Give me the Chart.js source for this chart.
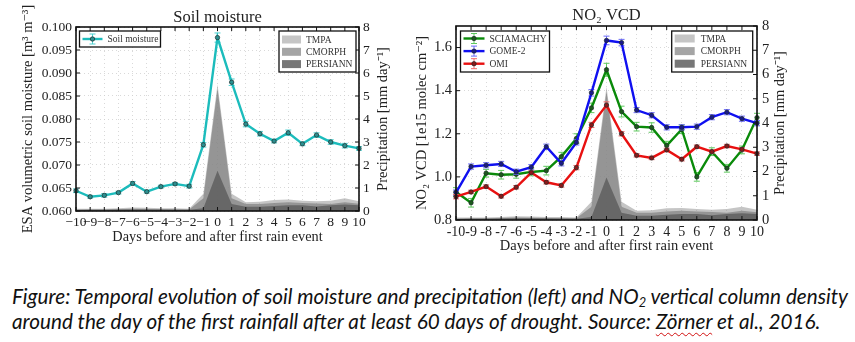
<!DOCTYPE html>
<html>
<head>
<meta charset="utf-8">
<script src="https://cdn.jsdelivr.net/npm/chart.js@4.4.1/dist/chart.umd.min.js"></script>
<style>
  html, body { margin: 0; padding: 0; background: #fff; width: 855px; height: 342px; overflow: hidden; }
  #soilChart { position: absolute; left: 0; top: 0; }
  #no2Chart { position: absolute; left: 400px; top: 0; }
  #caption {
    position: absolute; left: 12px; top: 284px;
    font-family: Lato, "Open Sans", sans-serif; font-style: italic;
    font-size: 17px; line-height: 25px; color: #111; white-space: nowrap;
  }
  #caption sub { font-size: 0.62em; vertical-align: -0.25em; line-height: 0; }
  .squiggle { text-decoration: underline wavy #d21010; text-decoration-thickness: 1px; text-underline-offset: 3px; }
</style>
</head>
<body>
<canvas id="soilChart" width="420" height="255"></canvas>
<canvas id="no2Chart" width="455" height="262"></canvas>
<div id="caption"><span id="capLine1">Figure: Temporal evolution of soil moisture and precipitation (left) and NO<sub>2</sub> vertical column density</span><br>around the day of the first rainfall after at least 60 days of drought. Source: <span class="squiggle">Zörner</span> et al., 2016.</div>

<script>
// ---- data ----
const days = [-10, -9, -8, -7, -6, -5, -4, -3, -2, -1, 0, 1, 2, 3, 4, 5, 6, 7, 8, 9, 10];

const soilMoisture = [0.0644, 0.0631, 0.0634, 0.0640, 0.0660, 0.0642, 0.0653, 0.0659, 0.0654, 0.0744, 0.0977,
                      0.0880, 0.0789, 0.0768, 0.0752, 0.0770, 0.0746, 0.0765, 0.0750, 0.0742, 0.0736];
const soilMoistureErr = [0.0004, 0.0003, 0.0004, 0.0003, 0.0004, 0.0003, 0.0003, 0.0003, 0.0004, 0.0005, 0.0010,
                         0.0007, 0.0006, 0.0005, 0.0004, 0.0006, 0.0004, 0.0005, 0.0005, 0.0005, 0.0004];

const precipTMPA     = [0.10, 0.10, 0.10, 0.12, 0.15, 0.14, 0.12, 0.12, 0.10, 0.75, 5.50,
                        0.75, 0.38, 0.40, 0.48, 0.50, 0.45, 0.42, 0.45, 0.55, 0.42];
const precipCMORPH   = [0.06, 0.07, 0.07, 0.08, 0.10, 0.09, 0.08, 0.08, 0.07, 0.55, 5.30,
                        0.55, 0.30, 0.30, 0.35, 0.38, 0.35, 0.33, 0.30, 0.38, 0.32];
const precipPERSIANN = [0.04, 0.05, 0.05, 0.06, 0.07, 0.07, 0.06, 0.05, 0.05, 0.12, 1.75,
                        0.30, 0.18, 0.18, 0.22, 0.25, 0.25, 0.20, 0.25, 0.28, 0.25];

const no2Sciamachy = [0.930, 0.880, 1.017, 1.010, 1.012, 1.023, 1.029, 1.094, 1.178, 1.320, 1.497,
                      1.303, 1.233, 1.229, 1.145, 1.221, 1.000, 1.117, 1.040, 1.125, 1.275];
const no2SciamachyErr = [0.020, 0.020, 0.018, 0.020, 0.018, 0.018, 0.020, 0.020, 0.022, 0.022, 0.030,
                         0.025, 0.020, 0.022, 0.020, 0.020, 0.020, 0.018, 0.018, 0.018, 0.020];
const no2Gome2 = [0.927, 1.048, 1.054, 1.060, 1.024, 1.045, 1.140, 1.063, 1.160, 1.390, 1.633,
                  1.623, 1.310, 1.286, 1.230, 1.230, 1.233, 1.277, 1.300, 1.270, 1.249];
const no2Gome2Err = [0.012, 0.012, 0.012, 0.012, 0.012, 0.012, 0.012, 0.012, 0.012, 0.015, 0.020,
                     0.015, 0.012, 0.012, 0.012, 0.012, 0.012, 0.012, 0.012, 0.012, 0.012];
const no2Omi = [0.908, 0.930, 0.955, 0.910, 0.952, 1.020, 0.975, 0.960, 1.043, 1.241, 1.333,
                1.200, 1.100, 1.088, 1.125, 1.082, 1.140, 1.117, 1.143, 1.128, 1.108];
const no2OmiErr = [0.010, 0.008, 0.008, 0.008, 0.008, 0.008, 0.008, 0.008, 0.010, 0.012, 0.015,
                   0.010, 0.008, 0.008, 0.008, 0.008, 0.008, 0.008, 0.008, 0.008, 0.008];

// ---- look ----
Chart.defaults.font.family = '"Liberation Serif", "DejaVu Serif", serif';
Chart.defaults.color = '#222';

const colTMPA = 'rgba(150,150,150,0.55)';
const colCMORPH = 'rgba(130,130,130,0.72)';
const colPERSIANN = 'rgba(95,95,95,0.85)';

function precipDatasets() {
    return [
        { label: 'TMPA', data: precipTMPA, yAxisID: 'y2', fill: 'origin', backgroundColor: colTMPA,
          borderWidth: 0, pointRadius: 0, tension: 0, order: 5 },
        { label: 'CMORPH', data: precipCMORPH, yAxisID: 'y2', fill: 'origin', backgroundColor: colCMORPH,
          borderWidth: 0, pointRadius: 0, tension: 0, order: 4 },
        { label: 'PERSIANN', data: precipPERSIANN, yAxisID: 'y2', fill: 'origin', backgroundColor: colPERSIANN,
          borderWidth: 0, pointRadius: 0, tension: 0, order: 3 }
    ];
}

function lineDataset(label, data, err, color, markerFill, errColor, order) {
    return {
        label, data, yAxisID: 'y', errorBars: err, errorColor: errColor,
        borderColor: color, borderWidth: 2.4, backgroundColor: color, fill: false, tension: 0,
        pointRadius: 2.2, pointBackgroundColor: markerFill, pointBorderColor: '#1c2a2a', pointBorderWidth: 0.7,
        order
    };
}

// error bars drawn just before each line, after the rain areas
const errorBarPlugin = {
    id: 'errorBars',
    beforeDatasetDraw(chart, args) {
        const ds = chart.data.datasets[args.index];
        if (!ds.errorBars) return;
        const meta = args.meta;
        const yScale = chart.scales[meta.yAxisID];
        const ctx = chart.ctx;
        ctx.save();
        ctx.strokeStyle = ds.errorColor;
        ctx.lineWidth = 1;
        meta.data.forEach((pt, j) => {
            const v = ds.data[j], e = ds.errorBars[j];
            const y1 = yScale.getPixelForValue(v - e);
            const y2 = yScale.getPixelForValue(v + e);
            ctx.beginPath();
            ctx.moveTo(pt.x, y1); ctx.lineTo(pt.x, y2);
            ctx.moveTo(pt.x - 3, y1); ctx.lineTo(pt.x + 3, y1);
            ctx.moveTo(pt.x - 3, y2); ctx.lineTo(pt.x + 3, y2);
            ctx.stroke();
        });
        ctx.restore();
    }
};

// frame, inner ticks, right axis title, legends
function decorPlugin(cfg) {
    return {
        id: 'decor',
        afterDraw(chart) {
            const ctx = chart.ctx;
            const a = chart.chartArea;
            const sx = chart.scales.x, sy = chart.scales.y, sy2 = chart.scales.y2;
            ctx.save();
            ctx.strokeStyle = '#111';
            ctx.lineWidth = 1;
            ctx.beginPath();
            sx.ticks.forEach((t, i) => {
                const x = sx.getPixelForTick(i);
                ctx.moveTo(x, a.bottom); ctx.lineTo(x, a.bottom - 4);
                ctx.moveTo(x, a.top); ctx.lineTo(x, a.top + 4);
            });
            sy.ticks.forEach((t, i) => {
                const y = sy.getPixelForTick(i);
                ctx.moveTo(a.left, y); ctx.lineTo(a.left + 4, y);
            });
            sy2.ticks.forEach((t, i) => {
                const y = sy2.getPixelForTick(i);
                ctx.moveTo(a.right, y); ctx.lineTo(a.right - 4, y);
            });
            ctx.stroke();
            ctx.lineWidth = 1.6;
            ctx.strokeRect(a.left, a.top, a.right - a.left, a.bottom - a.top);

            // right axis title, reading bottom to top
            ctx.fillStyle = '#222';
            ctx.font = cfg.rightTitleSize + 'px "Liberation Serif", serif';
            ctx.textAlign = 'center';
            ctx.textBaseline = 'middle';
            ctx.translate(cfg.rightTitleX, (a.top + a.bottom) / 2);
            ctx.rotate(-Math.PI / 2);
            ctx.fillText(cfg.rightTitle, 0, 0);
            ctx.setTransform(1, 0, 0, 1, 0, 0);

            cfg.legends.forEach(lg => {
                const bx = lg.side === 'left' ? a.left + lg.dx : a.right - lg.dx - lg.w;
                const by = a.top + lg.dy;
                ctx.fillStyle = '#fff';
                ctx.fillRect(bx, by, lg.w, lg.h);
                ctx.strokeStyle = '#111';
                ctx.lineWidth = 1.3;
                ctx.strokeRect(bx, by, lg.w, lg.h);
                ctx.font = '9.5px "Liberation Serif", serif';
                ctx.textAlign = 'left';
                ctx.textBaseline = 'middle';
                lg.items.forEach((it, k) => {
                    const cy = by + lg.rowTop + k * lg.rowGap;
                    const x0 = bx + 3, x1 = bx + 3 + lg.sample;
                    if (it.kind === 'patch') {
                        ctx.fillStyle = it.color;
                        ctx.fillRect(x0, cy - 4, lg.sample, 8);
                    } else {
                        const xm = (x0 + x1) / 2;
                        ctx.strokeStyle = it.errColor;
                        ctx.lineWidth = 1;
                        ctx.beginPath();
                        ctx.moveTo(xm, cy - 5); ctx.lineTo(xm, cy + 5);
                        ctx.moveTo(xm - 3, cy - 5); ctx.lineTo(xm + 3, cy - 5);
                        ctx.moveTo(xm - 3, cy + 5); ctx.lineTo(xm + 3, cy + 5);
                        ctx.stroke();
                        ctx.strokeStyle = it.color;
                        ctx.lineWidth = 2.4;
                        ctx.beginPath();
                        ctx.moveTo(x0, cy); ctx.lineTo(x1, cy);
                        ctx.stroke();
                        ctx.fillStyle = it.marker;
                        ctx.strokeStyle = '#1c2a2a';
                        ctx.lineWidth = 0.7;
                        ctx.beginPath();
                        ctx.arc(xm, cy, 2.2, 0, Math.PI * 2);
                        ctx.fill(); ctx.stroke();
                    }
                    ctx.fillStyle = '#333';
                    ctx.fillText(it.label, x1 + lg.textGap, cy + 0.5);
                });
            });
            ctx.restore();
        }
    };
}

const precipLegendItems = [
    { label: 'TMPA', kind: 'patch', color: colTMPA },
    { label: 'CMORPH', kind: 'patch', color: colCMORPH },
    { label: 'PERSIANN', kind: 'patch', color: colPERSIANN }
];

function fixedWidth(w) { return scale => { scale.width = w; }; }
function fixedHeight(h) { return scale => { scale.height = h; }; }

function gridOpts() {
    return { color: '#cfcfcf', lineWidth: 0.8, drawTicks: false };
}

// ---- left chart: soil moisture ----
new Chart(document.getElementById('soilChart'), {
    type: 'line',
    data: {
        labels: days,
        datasets: [
            lineDataset('Soil moisture', soilMoisture, soilMoistureErr, '#1cbcbc', '#2b8f8f', '#4fd0d0', 1),
            ...precipDatasets()
        ]
    },
    options: {
        responsive: false,
        animation: false,
        layout: { padding: { left: 0, right: 0, top: 0, bottom: 9.2 } },
        plugins: {
            legend: { display: false },
            tooltip: { enabled: false },
            title: {
                display: true, text: 'Soil moisture', fullSize: false,
                font: { size: 16.5, weight: 'normal', lineHeight: 1 }, color: '#222',
                padding: { top: 9, bottom: 1.5 }
            }
        },
        scales: {
            x: {
                afterFit: fixedHeight(34.8),
                grid: gridOpts(),
                border: { display: false, dash: [1, 3] },
                ticks: {
                    autoSkip: false, maxRotation: 0, minRotation: 0, padding: 3,
                    font: { size: 13.5 },
                    callback: (v, i) => days[i] < 0 ? '\u2212' + Math.abs(days[i]) : String(days[i])
                },
                title: { display: true, text: 'Days before and after first rain event', font: { size: 14.3 }, padding: 0 }
            },
            y: {
                position: 'left', min: 0.06, max: 0.1,
                afterFit: fixedWidth(76),
                grid: gridOpts(),
                border: { display: false, dash: [1, 3] },
                ticks: { stepSize: 0.005, padding: 4, font: { size: 13.5 }, callback: v => v.toFixed(3) },
                title: { display: true, text: 'ESA volumetric soil moisture [m\u00B3 m\u207B\u00B3]',
                         font: { size: 14.5 }, padding: { top: 19.3, bottom: 0 } }
            },
            y2: {
                position: 'right', min: 0, max: 8,
                afterFit: fixedWidth(61),
                grid: { display: false, drawTicks: false },
                border: { display: false },
                ticks: { stepSize: 1, padding: 4, font: { size: 13.5 } }
            }
        }
    },
    plugins: [errorBarPlugin, decorPlugin({
        rightTitle: 'Precipitation [mm day\u207B\u00B9]', rightTitleX: 383, rightTitleSize: 14.5,
        legends: [
            { side: 'left', dx: 3.5, dy: 4, w: 81, h: 16, rowTop: 8, rowGap: 0, sample: 20, textGap: 5,
              items: [{ label: 'Soil moisture', kind: 'line', color: '#1cbcbc', marker: '#2b8f8f', errColor: '#4fd0d0' }] },
            { side: 'right', dx: 3, dy: 4, w: 77, h: 41, rowTop: 8.5, rowGap: 12.3, sample: 19, textGap: 5,
              items: precipLegendItems }
        ]
    })]
});

// ---- right chart: NO2 VCD ----
new Chart(document.getElementById('no2Chart'), {
    type: 'line',
    data: {
        labels: days,
        datasets: [
            lineDataset('SCIAMACHY', no2Sciamachy, no2SciamachyErr, '#0a8a0a', '#1c5a1c', '#5fc85f', 2),
            lineDataset('GOME-2', no2Gome2, no2Gome2Err, '#1010f0', '#1a1a8a', '#6a6af8', 1),
            lineDataset('OMI', no2Omi, no2OmiErr, '#e81010', '#8a1a1a', '#f06a6a', 0),
            ...precipDatasets()
        ]
    },
    options: {
        responsive: false,
        animation: false,
        layout: { padding: { left: 0, right: 0, top: 0, bottom: 7.2 } },
        plugins: {
            legend: { display: false },
            tooltip: { enabled: false },
            title: {
                display: true, text: 'NO\u2082 VCD', fullSize: false,
                font: { size: 16.5, weight: 'normal', lineHeight: 1 }, color: '#222',
                padding: { top: 7.5, bottom: 2 }
            }
        },
        scales: {
            x: {
                afterFit: fixedHeight(34.8),
                grid: gridOpts(),
                border: { display: false, dash: [1, 3] },
                ticks: {
                    autoSkip: false, maxRotation: 0, minRotation: 0, padding: 4,
                    font: { size: 14 },
                    callback: (v, i) => String(days[i])
                },
                title: { display: true, text: 'Days before and after first rain event', font: { size: 14.5 }, padding: 0 }
            },
            y: {
                position: 'left', min: 0.8, max: 1.7,
                afterFit: fixedWidth(56),
                grid: gridOpts(),
                border: { display: false, dash: [1, 3] },
                ticks: { stepSize: 0.2, includeBounds: false, padding: 4, font: { size: 14.5 }, callback: v => v.toFixed(1) },
                title: { display: true, text: 'NO\u2082 VCD [1e15 molec cm\u207B\u00B2]',
                         font: { size: 14.5 }, padding: { top: 13.3, bottom: 0 } }
            },
            y2: {
                position: 'right', min: 0, max: 8,
                afterFit: fixedWidth(98),
                grid: { display: false, drawTicks: false },
                border: { display: false },
                ticks: { stepSize: 1, padding: 5, font: { size: 14.5 } }
            }
        }
    },
    plugins: [errorBarPlugin, decorPlugin({
        rightTitle: 'Precipitation [mm day\u207B\u00B9]', rightTitleX: 380, rightTitleSize: 14.5,
        legends: [
            { side: 'left', dx: 4.5, dy: 5, w: 89, h: 41, rowTop: 7.5, rowGap: 12.6, sample: 21, textGap: 5,
              items: [
                  { label: 'SCIAMACHY', kind: 'line', color: '#0a8a0a', marker: '#1c5a1c', errColor: '#5fc85f' },
                  { label: 'GOME-2', kind: 'line', color: '#1010f0', marker: '#1a1a8a', errColor: '#6a6af8' },
                  { label: 'OMI', kind: 'line', color: '#e81010', marker: '#8a1a1a', errColor: '#f06a6a' }
              ] },
            { side: 'right', dx: 4.3, dy: 5, w: 81, h: 41, rowTop: 7.5, rowGap: 12.6, sample: 20, textGap: 6,
              items: precipLegendItems }
        ]
    })]
});

// caption: fit first line to the width it has in the figure
const line1 = document.getElementById('capLine1');
const cap = document.getElementById('caption');
const w = line1.getBoundingClientRect().width;
if (w > 0) cap.style.fontSize = (17 * 836 / w).toFixed(2) + 'px';
</script>
</body>
</html>
